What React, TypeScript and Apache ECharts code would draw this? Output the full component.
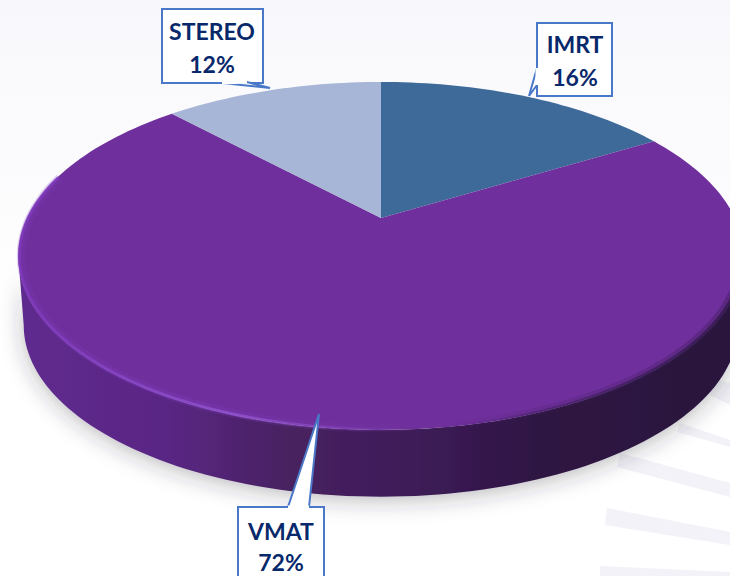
import React, { useEffect, useRef } from "react";
import * as echarts from "echarts";

const categories = ["IMRT", "VMAT", "STEREO"];
const shares = [16.4, 71.6, 12];
const sliceColors = ["#3e6a9a", "#6f2f9c", "#a7b6d6"];

const W = 730;
const H = 576;
const CX = 381;
const APEX_Y = 218;
const RX = 354;
const SY = 165.7;
const PERSP = 0.218;
const BOTTOM_SCALE = 0.985;
const BOTTOM_APEX_Y = 288;
const SIL_A = 102.6;
const SIL_B = 257.4;

const labelLayout: Record<string, any> = {
  IMRT: { box: [537, 23, 75, 73], tail: [[537, 68], [529, 96], [537, 85]], tx: 575, ty: [44, 77] },
  VMAT: { box: [238, 507, 86, 90], tail: [[288, 507], [319, 414], [309, 507]], tx: 281, ty: [531, 562] },
  STEREO: { box: [162, 9, 101, 74], tail: [[222, 83], [270, 88], [247, 82]], tx: 212, ty: [31, 64] },
};

const bgBars = [
  [[713, 378], [730, 383], [730, 405], [710, 395]],
  [[680, 423], [730, 440], [730, 447], [677, 432]],
  [[620, 453], [730, 483], [730, 497], [617, 467]],
  [[607, 508], [730, 532], [730, 545], [605, 525]],
  [[600, 566], [730, 572], [730, 576], [600, 576]],
];

function project(deg: number, scale = 1, apexY = APEX_Y): number[] {
  const t = (deg * Math.PI) / 180;
  const x = Math.sin(t);
  const y = Math.cos(t);
  const w = 1 + PERSP * y;
  return [CX + (scale * RX * x) / w, apexY - (scale * SY * y) / w];
}

function arc(a: number, b: number, scale = 1, apexY = APEX_Y): number[][] {
  const n = Math.max(2, Math.ceil(Math.abs(b - a) / 1.5));
  const pts: number[][] = [];
  for (let i = 0; i <= n; i++) pts.push(project(a + ((b - a) * i) / n, scale, apexY));
  return pts;
}

function lin(stops: [number, string][]) {
  return new echarts.graphic.LinearGradient(0, 0, 1, 0, stops.map(([offset, color]) => ({ offset, color })));
}

const total = shares.reduce((s, v) => s + v, 0);

function renderSlice(params: any, api: any) {
  const i = api.value(0);
  const before = shares.slice(0, i).reduce((s, v) => s + v, 0);
  const a = (before / total) * 360;
  const b = a + (api.value(1) / total) * 360;
  const children: any[] = [];

  const wa = Math.max(a, SIL_A);
  const wb = Math.min(b, SIL_B);
  if (wb > wa) {
    const top = arc(wa, wb);
    const bottom = arc(wa, wb, BOTTOM_SCALE, BOTTOM_APEX_Y).reverse();
    children.push({
      type: "polygon",
      shape: { points: top.concat(bottom) },
      style: {
        fill: lin([
          [0, "#5f2a8e"],
          [0.2, "#5a2785"],
          [0.38, "#47215f"],
          [0.55, "#3d1c58"],
          [0.72, "#2e1442"],
          [1, "#2a123c"],
        ]),
        shadowBlur: 22,
        shadowColor: "rgba(40,40,50,0.32)",
        shadowOffsetY: 4,
      },
    });
  }

  children.push({
    type: "polygon",
    shape: { points: [[CX, APEX_Y], ...arc(a, b)] },
    style: { fill: sliceColors[i] },
  });

  if (wb > wa) {
    const rim = arc(Math.max(a, 96), Math.min(b, 285), 0.997);
    const wide = arc(Math.max(a, 96), Math.min(b, 285), 0.993);
    children.push({
      type: "polyline",
      shape: { points: wide },
      style: {
        fill: "none",
        lineWidth: 8,
        opacity: 0.4,
        stroke: lin([
          [0, "rgba(128,60,190,0.55)"],
          [0.25, "rgba(130,62,195,0.65)"],
          [0.5, "rgba(125,60,185,0.2)"],
          [0.58, "rgba(90,40,130,0)"],
          [0.72, "rgba(60,28,90,0.35)"],
          [1, "rgba(50,24,76,0.9)"],
        ]),
      },
    });
    children.push({
      type: "polyline",
      shape: { points: rim },
      style: {
        fill: "none",
        lineWidth: 3,
        opacity: 0.85,
        stroke: lin([
          [0, "rgba(128,58,192,0.8)"],
          [0.3, "rgba(150,88,212,0.85)"],
          [0.47, "rgba(150,90,210,0.3)"],
          [0.58, "rgba(80,40,120,0)"],
          [0.72, "rgba(50,24,76,0.45)"],
          [1, "rgba(45,22,70,0.9)"],
        ]),
      },
    });
  }
  return { type: "group", children };
}

function renderLabel(params: any, api: any) {
  const i = api.value(0);
  const name = categories[i];
  const l = labelLayout[name];
  const border = "#4a78c8";
  const font = 'bold 23px Lato, "Open Sans", sans-serif';
  const textStyle = (text: string, y: number) => ({
    type: "text",
    style: { text, x: l.tx, y, align: "center", verticalAlign: "middle", font, fill: "#07286a" },
  });
  return {
    type: "group",
    children: [
      {
        type: "rect",
        shape: { x: l.box[0], y: l.box[1], width: l.box[2], height: l.box[3] },
        style: { fill: "#ffffff", stroke: border, lineWidth: 2 },
      },
      {
        type: "polygon",
        shape: { points: l.tail },
        style: { fill: "#ffffff", stroke: border, lineWidth: 2 },
      },
      {
        type: "line",
        shape: { x1: l.tail[0][0], y1: l.tail[0][1], x2: l.tail[2][0], y2: l.tail[2][1] },
        style: { stroke: "#ffffff", lineWidth: 3 },
      },
      textStyle(name, l.ty[0]),
      textStyle(`${Math.round(api.value(1))}%`, l.ty[1]),
    ],
  };
}

export default function App() {
  const ref = useRef<HTMLDivElement>(null);
  useEffect(() => {
    const chart = echarts.init(ref.current!, null, { renderer: "svg" });
    const data = shares.map((v, i) => [i, v]);
    chart.setOption({
      animation: false,
      graphic: {
        elements: [
          {
            type: "rect",
            z: -10,
            silent: true,
            shape: { x: 0, y: 0, width: W, height: H },
            style: {
              fill: new echarts.graphic.LinearGradient(0, 0, 0, 1, [
                { offset: 0, color: "#f8f8fc" },
                { offset: 0.4, color: "#fdfdfe" },
                { offset: 0.5, color: "#ffffff" },
                { offset: 1, color: "#ffffff" },
              ]),
            },
          },
          ...bgBars.map((points) => ({
            type: "polygon",
            z: -9,
            silent: true,
            shape: { points },
            style: { fill: "#f2f2f8" },
          })),
        ],
      },
      series: [
        { type: "custom", coordinateSystem: "none", z: 2, silent: true, clip: false, renderItem: renderSlice, data },
        { type: "custom", coordinateSystem: "none", z: 3, silent: true, clip: false, renderItem: renderLabel, data },
      ],
    });
    return () => chart.dispose();
  }, []);
  return (
    <div
      ref={ref}
      style={{ position: "absolute", left: 0, top: 0, width: W, height: H, overflow: "hidden" }}
    />
  );
}
